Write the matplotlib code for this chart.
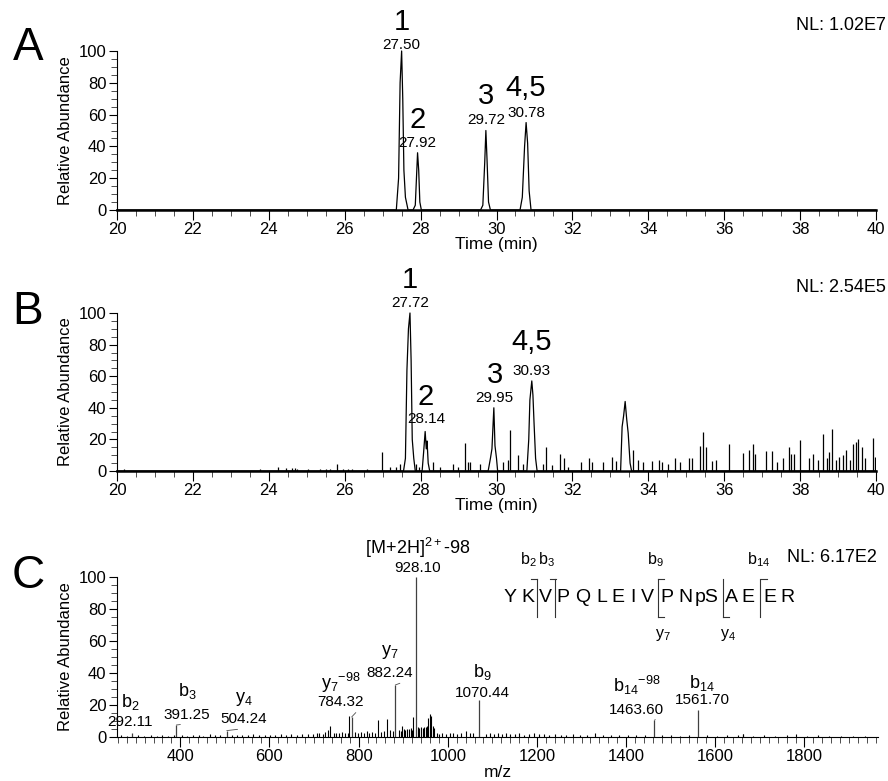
import numpy as np
import matplotlib
matplotlib.use('Agg')
import matplotlib.pyplot as plt
from matplotlib.ticker import MultipleLocator

plt.rcParams['font.family'] = ['Liberation Sans', 'DejaVu Sans']
plt.rcParams['mathtext.fontset'] = 'custom'
plt.rcParams['mathtext.rm'] = 'Liberation Sans'
plt.rcParams['mathtext.it'] = 'Liberation Sans:italic'

# ---- Panel A: extracted ion chromatogram (vertices)
time_a = [20, 27.36, 27.42, 27.46, 27.50, 27.53, 27.56, 27.60, 27.67, 27.80, 27.86, 27.90,
          27.92, 27.95, 27.98, 28.02, 29.58, 29.64, 29.69, 29.72, 29.75, 29.79, 29.84,
          30.62, 30.68, 30.74, 30.78, 30.82, 30.86, 30.91, 40]
inten_a = [0, 0, 20, 80, 100, 70, 25, 8, 0, 0, 3, 25, 36, 25, 5, 0, 0, 3, 30, 50, 32, 5, 0,
           0, 8, 40, 55, 42, 12, 0, 0]
peak_rt_a = [27.50, 27.92, 29.72, 30.78]
peak_h_a = [100, 36, 50, 55]
peak_names = ['1', '2', '3', '4,5']

# ---- Panel B: main peaks as vertices, small spikes as sticks
time_b = [20, 27.55, 27.60, 27.64, 27.68, 27.72, 27.75, 27.78, 27.82, 27.86,
          28.04, 28.08, 28.12, 28.15, 28.17, 28.20, 28.24,
          29.78, 29.84, 29.88, 29.93, 29.96, 30.00, 30.03,
          30.80, 30.85, 30.88, 30.93, 30.96, 30.99, 31.03, 31.07,
          33.27, 33.31, 33.35, 33.39, 33.43, 33.47, 33.52, 33.56, 40]
inten_b = [0, 0, 8, 64, 90, 100, 70, 20, 8, 0,
           0, 12, 25, 14, 19, 5, 0,
           0, 8, 14, 40, 16, 8, 0,
           0, 20, 45, 57, 48, 30, 8, 0,
           0, 28, 35, 44, 33, 24, 5, 0, 0]
spike_t_b = [20.18, 23.77, 24.24, 24.45, 24.6, 24.68, 24.75, 25.03, 25.35, 25.5, 25.6, 25.8,
             25.95, 26.1, 26.2, 26.58, 26.97, 27.2, 27.35, 27.45, 27.88, 27.95, 28.33, 28.5,
             28.86, 28.98, 29.17, 29.25, 29.3, 29.56, 30.18, 30.3, 30.36, 30.57, 30.71, 31.23,
             31.3, 31.45, 31.67, 31.78, 31.89, 32.22, 32.45, 32.52, 32.81, 33.05, 33.16, 33.6,
             33.73, 33.87, 34.09, 34.28, 34.35, 34.53, 34.7, 34.83, 35.08, 35.14, 35.36, 35.45,
             35.52, 35.67, 35.78, 36.13, 36.5, 36.66, 36.75, 36.81, 37.11, 37.27, 37.38, 37.55,
             37.71, 37.77, 37.83, 38.01, 38.24, 38.34, 38.48, 38.61, 38.7, 38.77, 38.84, 38.94,
             39.03, 39.13, 39.2, 39.31, 39.4, 39.47, 39.53, 39.62, 39.71, 39.91, 39.97]
spike_h_b = [1, 1, 2.5, 1.8, 1.8, 1.8, 1.5, 1.5, 1.5, 1.5, 1.5, 4.6,
             1.5, 1.5, 1.5, 1.5, 12, 2.5, 2.5, 4.5, 4.6, 2.5, 6, 2.7,
             4.6, 2.5, 18, 6, 6, 4.6, 5.7, 7, 26, 10, 4.6, 4.6,
             15, 3.6, 10.5, 8, 2.5, 6, 8.4, 6, 5.7, 8.9, 6.3, 13,
             7, 5.7, 6.3, 7, 6, 4.6, 8.4, 5.7, 8, 8, 16, 25,
             15, 6.3, 7, 17, 11.4, 13, 17, 10.5, 12.5, 12.5, 5.7, 8.4,
             15, 11, 10.5, 19.4, 8, 10.5, 6.7, 23.6, 8, 12, 26.8, 7,
             8.9, 10, 13, 6.7, 17, 18.4, 20.5, 15, 8, 21, 8.9]
peak_rt_b = [27.72, 28.14, 29.95, 30.93]
peak_h_b = [100, 25, 40, 57]

# ---- Panel C: MS/MS spectrum
ion_names = [r'$\mathregular{b_2}$', r'$\mathregular{b_3}$', r'$\mathregular{y_4}$',
             r'$\mathregular{y_7{}^{-98}}$', r'$\mathregular{y_7}$',
             r'$\mathregular{[M\!+\!2H]^{2+}}$-98', r'$\mathregular{b_9}$',
             r'$\mathregular{b_{14}{}^{-98}}$', r'$\mathregular{b_{14}}$']
ion_mz = [292.11, 391.25, 504.24, 784.32, 882.24, 928.10, 1070.44, 1463.60, 1561.70]
ion_int = [2.5, 7.5, 4, 12.5, 32.5, 100, 23, 10.5, 17]
minor_mz = [736, 778, 844, 864, 897, 922, 956, 960, 963, 1662]
minor_int = [6.6, 13, 10.4, 11, 7, 12.5, 12, 14.5, 13, 2]
noise_mz = [268, 281, 305, 318, 334, 347, 360, 372, 385, 404,
            416, 428, 441, 452, 466, 478, 490, 515, 527, 538,
            551, 563, 577, 589, 601, 612, 626, 638, 649, 661,
            673, 686, 698, 706, 712, 719, 725, 731, 744, 750,
            757, 763, 770, 776, 792, 798, 805, 811, 818, 824,
            831, 837, 850, 856, 870, 876, 890, 894, 901, 905,
            909, 913, 917, 920, 933, 936, 940, 944, 947, 951,
            954, 967, 970, 975, 981, 988, 996, 1004, 1012, 1021,
            1030, 1040, 1049, 1057, 1085, 1094, 1103, 1112, 1121, 1131,
            1140, 1150, 1160, 1171, 1182, 1193, 1204, 1216, 1228, 1240,
            1253, 1266, 1280, 1296, 1312, 1330, 1348, 1366, 1385, 1404,
            1423, 1442, 1480, 1500, 1520, 1541, 1582, 1604, 1627, 1650,
            1662, 1685, 1710, 1735, 1760, 1781, 1805, 1830, 1856, 1882,
            1908, 1935]
noise_int = [1.0, 0.8, 1.2, 0.8, 1.0, 0.9, 1.1, 0.8, 1.3, 1.0,
             0.9, 1.5, 1.0, 0.8, 1.6, 1.1, 1.2, 1.4, 1.3, 1.5,
             1.2, 1.6, 1.3, 1.1, 1.5, 1.2, 1.7, 1.3, 1.9, 1.4,
             1.6, 1.8, 2.0, 2.2, 2.6, 2.0, 3.0, 4.2, 2.4, 2.8,
             2.2, 3.0, 2.4, 2.6, 3.2, 2.5, 3.0, 2.3, 3.5, 2.6,
             3.0, 2.8, 3.4, 3.8, 4.2, 3.6, 4.5, 4.0, 5.0, 4.4,
             5.2, 4.8, 5.5, 4.6, 6.0, 5.4, 6.2, 5.8, 6.5, 6.0,
             6.8, 7.0, 5.5, 2.5, 2.0, 2.4, 1.8, 2.6, 2.2, 2.0,
             2.4, 3.5, 2.8, 2.2, 1.8, 2.3, 2.0, 2.5, 1.6, 2.2,
             2.0, 1.8, 2.4, 1.5, 1.9, 2.2, 1.6, 2.1, 1.4, 1.8,
             1.5, 1.2, 1.6, 1.1, 1.3, 2.4, 1.2, 1.0, 1.4, 1.1,
             1.2, 1.0, 1.5, 1.1, 0.9, 1.3, 1.0, 0.9, 1.1, 1.2,
             2.0, 0.9, 1.0, 0.8, 1.0, 1.6, 0.8, 1.0, 0.7, 0.9,
             0.8, 0.7]
sequence = ['Y', 'K', 'V', 'P', 'Q', 'L', 'E', 'I', 'V', 'P', 'N', 'pS', 'A', 'E', 'E', 'R']

# label placement (m/z, name level, number level) and leader flags
ion_lab_x = [287, 415, 543, 760, 870, 933, 1077, 1424, 1570]
ion_lab_yname = [22, 29, 24, 34, 53, 118, 40.6, 32.5, 34]
ion_lab_ynum = [9.4, 14, 11, 22, 40, 105.6, 27.5, 17, 23]
ion_leader = [False, True, True, True, True, False, False, True, False]
seq_x = [1140, 1180, 1220, 1258, 1303, 1346, 1382, 1415, 1447, 1492, 1532, 1581, 1637, 1673,
         1723, 1761]
cleave_x = [1200, 1240, 1472, 1617, 1700]
b_marks = [('2', 1180), ('3', 1222), ('9', 1465), ('14', 1696)]
y_marks = [('7', 1482), ('4', 1628)]


def style_axes(ax, xlim, xmaj, xmin, spine_w):
    ax.set_xlim(*xlim)
    ax.set_ylim(0, 100)
    for s in ['top', 'right']:
        ax.spines[s].set_visible(False)
    ax.spines['bottom'].set_linewidth(spine_w)
    ax.spines['left'].set_linewidth(0.8)
    ax.xaxis.set_major_locator(MultipleLocator(xmaj))
    ax.xaxis.set_minor_locator(MultipleLocator(xmin))
    ax.yaxis.set_major_locator(MultipleLocator(20))
    ax.yaxis.set_minor_locator(MultipleLocator(5))
    ax.tick_params(axis='both', which='major', labelsize=12, width=0.8, pad=1.5)
    ax.tick_params(axis='x', which='major', length=7)
    ax.tick_params(axis='y', which='major', length=6)
    ax.tick_params(which='minor', length=4, width=0.7, color='0.3')
    ax.set_ylabel('Relative Abundance', fontsize=12, labelpad=4)


fig = plt.figure(figsize=(8.88, 7.81), dpi=100)
W, H = 888.0, 781.0
axA = fig.add_axes([117 / W, 1 - 210 / H, 759 / W, 159 / H])
axB = fig.add_axes([117 / W, 1 - 471 / H, 759 / W, 158 / H])
axC = fig.add_axes([117 / W, 1 - 737 / H, 761 / W, 160 / H])

# Panel A
axA.plot(time_a, inten_a, color='black', lw=0.9, clip_on=False)
style_axes(axA, (20, 40), 2, 0.5, 1.8)
axA.set_xlabel('Time (min)', fontsize=12.5, labelpad=0)
rt_off_a = [1.5, 4, 5, 4]
num_off_a = [15, 18, 19, 19]
for rt, h, nm, o1, o2 in zip(peak_rt_a, peak_h_a, peak_names, rt_off_a, num_off_a):
    axA.annotate(f'{rt:.2f}', (rt, h), xytext=(0, o1), textcoords='offset points',
                 ha='center', va='baseline', fontsize=11)
    axA.annotate(nm, (rt, h), xytext=(0, o2), textcoords='offset points',
                 ha='center', va='baseline', fontsize=21)
fig.text(28 / W, 1 - 48 / H, 'A', fontsize=33, ha='center', va='center')
fig.text(886 / W, 1 - 25 / H, 'NL: 1.02E7', fontsize=13, ha='right', va='center')

# Panel B
axB.plot(time_b, inten_b, color='black', lw=0.9, clip_on=False)
axB.vlines(spike_t_b, 0, spike_h_b, color='black', lw=0.9)
style_axes(axB, (20, 40), 2, 0.5, 1.8)
axB.set_xlabel('Time (min)', fontsize=12.5, labelpad=0)
rt_off_b = [4, 6, 4, 4]
num_off_b = [18, 19, 18, 22]
for rt, h, nm, o1, o2 in zip(peak_rt_b, peak_h_b, peak_names, rt_off_b, num_off_b):
    axB.annotate(f'{rt:.2f}', (rt, h), xytext=(0, o1), textcoords='offset points',
                 ha='center', va='baseline', fontsize=11)
    axB.annotate(nm, (rt, h), xytext=(0, o2), textcoords='offset points',
                 ha='center', va='baseline', fontsize=21)
fig.text(28 / W, 1 - 312 / H, 'B', fontsize=33, ha='center', va='center')
fig.text(886 / W, 1 - 287 / H, 'NL: 2.54E5', fontsize=13, ha='right', va='center')

# Panel C
axC.vlines(noise_mz, 0, noise_int, color='black', lw=0.8)
axC.vlines(minor_mz, 0, minor_int, color='black', lw=0.8)
axC.vlines(ion_mz, 0, ion_int, color='0.25', lw=0.9)
style_axes(axC, (258, 1965), 200, 20, 0.8)
axC.set_xlabel('m/z', fontsize=12.5, labelpad=1)
for nm, mz, h, lx, ly1, ly2, lead in zip(ion_names, ion_mz, ion_int, ion_lab_x,
                                         ion_lab_yname, ion_lab_ynum, ion_leader):
    axC.text(lx, ly1, nm, ha='center', va='center', fontsize=13, clip_on=False)
    if lead:
        axC.annotate(f'{mz:.2f}', (mz, h), xytext=(lx, ly2), textcoords='data',
                     ha='center', va='center', fontsize=11, annotation_clip=False,
                     arrowprops=dict(arrowstyle='-', lw=0.6, color='0.3', shrinkA=1,
                                     shrinkB=0, relpos=(0.9, 0)))
    else:
        axC.text(lx, ly2, f'{mz:.2f}', ha='center', va='center', fontsize=11,
                 clip_on=False)

# peptide sequence with fragment brackets
for aa, x in zip(sequence, seq_x):
    axC.text(x, 87, aa, ha='center', va='center', fontsize=14)
for x in cleave_x:
    axC.plot([x, x], [75, 99], color='0.2', lw=0.8)
for sub, x in b_marks:
    axC.plot([x + 20, x + 7], [99, 99], color='0.2', lw=0.8)
    axC.text(x, 111, r'$\mathregular{b_{' + sub + '}}$', ha='center', va='center',
             fontsize=11.5, clip_on=False)
for sub, x in y_marks:
    axC.plot([x - 10, x + 3], [75, 75], color='0.2', lw=0.8)
    axC.text(x, 64, r'$\mathregular{y_{' + sub + '}}$', ha='center', va='center',
             fontsize=11.5)
fig.text(28 / W, 1 - 576 / H, 'C', fontsize=33, ha='center', va='center')
fig.text(877 / W, 1 - 558 / H, 'NL: 6.17E2', fontsize=13, ha='right', va='center')

fig.savefig('out.png', dpi=100)
